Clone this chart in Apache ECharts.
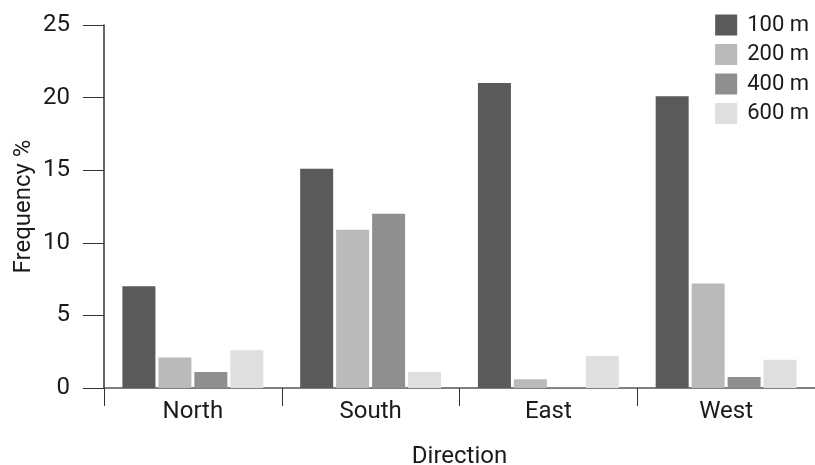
<!DOCTYPE html>
<html><head><meta charset="utf-8">
<script src="https://cdn.jsdelivr.net/npm/echarts@6/dist/echarts.min.js"></script>
<style>html,body{margin:0;padding:0;background:#fff}#c{width:815px;height:465px}</style>
</head><body><div id="c"></div>
<script>
const categories = ['North', 'South', 'East', 'West'];
const seriesNames = ['100 m', '200 m', '400 m', '600 m'];
const v100 = [7.0, 15.1, 21.0, 20.1];
const v200 = [2.1, 10.9, 0.6, 7.2];
const v400 = [1.1, 12.0, 0.05, 0.75];
const v600 = [2.6, 1.1, 2.2, 1.95];
const colors = ['#5a5a5a', '#bababa', '#8f8f8f', '#dfdfdf'];
const yTicks = [0, 5, 10, 15, 20, 25];

const font = 'Roboto, "Open Sans", sans-serif';
const fs = 24;
const values = [v100, v200, v400, v600];
const chart = echarts.init(document.getElementById('c'));
chart.setOption({
  animation: false,
  textStyle: { fontFamily: font },
  grid: { left: 104, right: 0, top: 25, bottom: 77, containLabel: false, outerBoundsMode: 'none' },
  legend: {
    orient: 'vertical', right: 1, top: 9, itemWidth: 22, itemHeight: 21, itemGap: 7.5,
    icon: 'rect', textStyle: { fontSize: 22, color: '#1a1a1a', fontFamily: font, padding: [0, 0, 0, 5] },
    data: seriesNames
  },
  xAxis: {
    type: 'category', data: categories,
    name: 'Direction', nameLocation: 'middle', nameGap: 57, nameMoveOverlap: false,
    nameTextStyle: { fontSize: fs, color: '#1a1a1a', fontFamily: font },
    axisLine: { lineStyle: { color: '#555', width: 1.5 } },
    axisTick: { show: true, alignWithLabel: false, length: 18, lineStyle: { color: '#333' } },
    axisLabel: { fontSize: fs, color: '#1a1a1a', margin: 12, fontFamily: font }
  },
  yAxis: {
    type: 'value', min: yTicks[0], max: yTicks[yTicks.length - 1], interval: 5,
    name: 'Frequency %', nameLocation: 'middle', nameGap: 68, nameMoveOverlap: false,
    nameTextStyle: { fontSize: fs, color: '#1a1a1a', fontFamily: font },
    axisLine: { show: true, lineStyle: { color: '#333', width: 1.5 } },
    axisTick: { show: true, length: 21, lineStyle: { color: '#333' } },
    axisLabel: { fontSize: fs, color: '#1a1a1a', margin: 34, fontFamily: font },
    splitLine: { show: false }
  },
  series: seriesNames.map((n, i) => ({
    name: n, type: 'bar', data: values[i], barWidth: 33, barGap: '9%',
    itemStyle: { color: colors[i] }
  }))
});
</script></body></html>
